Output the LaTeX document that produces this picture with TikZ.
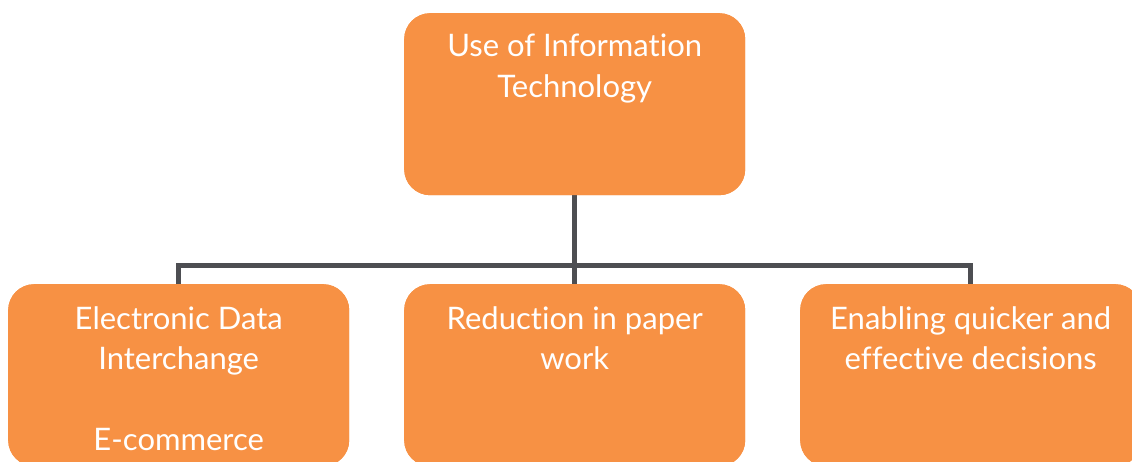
\documentclass[tikz,border=0pt]{standalone}
\usepackage{fontspec}
\setmainfont{Lato}[Ligatures=NoCommon]
\usetikzlibrary{calc}
\definecolor{boxorange}{HTML}{F79144}
\definecolor{linegray}{HTML}{4D4E52}
\tikzset{
  boxnode/.style={fill=boxorange, draw=none, rounded corners=26pt, minimum width=341pt, minimum height=182pt, anchor=north west, inner sep=0pt},
  boxtext/.style={text=white, align=center, anchor=north, inner sep=0pt, font=\fontsize{31}{40.5}\selectfont},
  conn/.style={draw=linegray, line width=5pt}
}
\begin{document}
\begin{tikzpicture}[x=1pt,y=-1pt]
\useasboundingbox (0,0) rectangle (1132,461);
\clip (0,0) rectangle (1132,461);
% boxes
\node[boxnode] (top) at (404,13) {};
\node[boxnode] (left) at (8,284) {};
\node[boxnode] (mid) at (404,284) {};
\node[boxnode] (right) at (800,284) {};
% connectors
\coordinate (hub) at (top.south |- 0,265);
\draw[conn] (top.south) -- (hub);
\draw[conn] (left.north) -- (left.north |- hub) -- (right.north |- hub) -- (right.north);
\draw[conn] (hub) -- (mid.north);
% redraw boxes above connectors
\node[boxnode] at (404,13) {};
\node[boxnode] at (8,284) {};
\node[boxnode] at (404,284) {};
\node[boxnode] at (800,284) {};
% texts
\node[boxtext] (ttop) at ($(top.north)+(0,21)$) {Use of Information\\Technology};
\node[boxtext] (tleft) at ($(left.north)+(0,22)$) {Electronic Data\\Interchange\\[40.5pt]E-commerce};
\node[boxtext] (tmid) at ($(mid.north)+(0,22)$) {Reduction in paper\\work};
\node[boxtext] (tright) at ($(right.north)+(0,22)$) {Enabling quicker and\\effective decisions};
\end{tikzpicture}
\end{document}
